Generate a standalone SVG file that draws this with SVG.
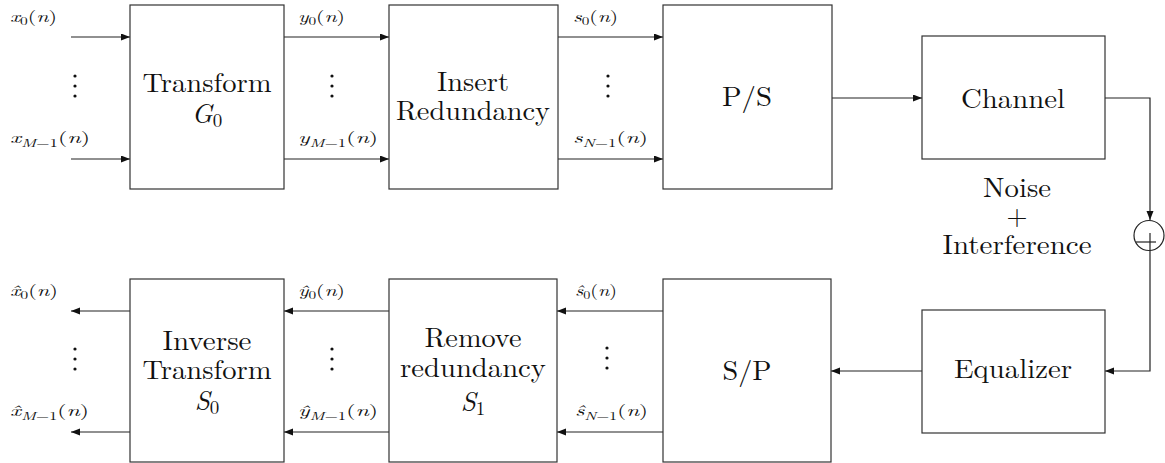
<svg xmlns="http://www.w3.org/2000/svg" width="1165" height="463" viewBox="0 0 1165 463" font-family="Latin Modern Roman, Liberation Serif, serif">
<style>
.box{fill:#fff;stroke:#333;stroke-width:1.2}
.ln{fill:none;stroke:#222;stroke-width:1.2}
.big{font-size:27px;fill:#111;text-anchor:middle}
.sm{font-size:15.5px;fill:#111;font-style:italic}
.sub{font-size:11px}
.up{font-style:normal}
.dot{fill:#111}
</style>
<defs>
<marker id="ah" markerUnits="userSpaceOnUse" markerWidth="10" markerHeight="8" refX="9" refY="3.5" orient="auto">
<path d="M0,0 L9,3.5 L0,7 z" fill="#111"/>
</marker>
</defs>

<g id="connectors">
<line class="ln" x1="71" y1="37" x2="130" y2="37" marker-end="url(#ah)"/>
<line class="ln" x1="71" y1="159" x2="130" y2="159" marker-end="url(#ah)"/>
<line class="ln" x1="284" y1="37" x2="389" y2="37" marker-end="url(#ah)"/>
<line class="ln" x1="284" y1="159" x2="389" y2="159" marker-end="url(#ah)"/>
<line class="ln" x1="558" y1="37" x2="663" y2="37" marker-end="url(#ah)"/>
<line class="ln" x1="558" y1="159" x2="663" y2="159" marker-end="url(#ah)"/>
<line class="ln" x1="832" y1="98" x2="922" y2="98" marker-end="url(#ah)"/>
<polyline class="ln" points="1105,98 1150,98 1150,220" marker-end="url(#ah)"/>
<polyline class="ln" points="1150,251 1150,371 1105,371" marker-end="url(#ah)"/>
<line class="ln" x1="922" y1="371" x2="831" y2="371" marker-end="url(#ah)"/>
<line class="ln" x1="663" y1="311" x2="557" y2="311" marker-end="url(#ah)"/>
<line class="ln" x1="663" y1="432" x2="557" y2="432" marker-end="url(#ah)"/>
<line class="ln" x1="389" y1="311" x2="284" y2="311" marker-end="url(#ah)"/>
<line class="ln" x1="389" y1="432" x2="284" y2="432" marker-end="url(#ah)"/>
<line class="ln" x1="130" y1="311" x2="71" y2="311" marker-end="url(#ah)"/>
<line class="ln" x1="130" y1="432" x2="71" y2="432" marker-end="url(#ah)"/>
</g>

<g id="transform">
<rect class="box" x="130" y="5" width="154" height="184"/>
<text class="big" x="207" y="92" textLength="129" lengthAdjust="spacingAndGlyphs">Transform</text>
<text class="big" x="207" y="123"><tspan font-style="italic">G</tspan><tspan font-size="19" dy="4">0</tspan></text>
</g>
<g id="insert">
<rect class="box" x="389" y="5" width="169" height="184"/>
<text class="big" x="473" y="91" textLength="72" lengthAdjust="spacingAndGlyphs">Insert</text>
<text class="big" x="473" y="120" textLength="154" lengthAdjust="spacingAndGlyphs">Redundancy</text>
</g>
<g id="ps">
<rect class="box" x="663" y="5" width="169" height="184"/>
<text class="big" x="747" y="106" textLength="50" lengthAdjust="spacingAndGlyphs">P/S</text>
</g>
<g id="channel">
<rect class="box" x="922" y="36" width="183" height="123"/>
<text class="big" x="1013" y="108" textLength="104" lengthAdjust="spacingAndGlyphs">Channel</text>
</g>
<g id="noise">
<text class="big" x="1017" y="197" textLength="68" lengthAdjust="spacingAndGlyphs">Noise</text>
<text class="big" x="1017" y="225">+</text>
<text class="big" x="1017" y="254" textLength="149" lengthAdjust="spacingAndGlyphs">Interference</text>
</g>
<g id="adder">
<circle cx="1149" cy="235.5" r="15" fill="#fff" stroke="#222" stroke-width="1.2"/>
<line class="ln" x1="1136" y1="242" x2="1156" y2="242"/>
<line class="ln" x1="1150" y1="233" x2="1150" y2="251"/>
</g>
<g id="equalizer">
<rect class="box" x="922" y="310" width="183" height="123"/>
<text class="big" x="1013" y="378" textLength="118" lengthAdjust="spacingAndGlyphs">Equalizer</text>
</g>
<g id="sp">
<rect class="box" x="663" y="279" width="168" height="183"/>
<text class="big" x="747" y="380" textLength="49" lengthAdjust="spacingAndGlyphs">S/P</text>
</g>
<g id="remove">
<rect class="box" x="389" y="279" width="168" height="183"/>
<text class="big" x="473" y="347" textLength="97" lengthAdjust="spacingAndGlyphs">Remove</text>
<text class="big" x="473" y="377" textLength="146" lengthAdjust="spacingAndGlyphs">redundancy</text>
<text class="big" x="473" y="411"><tspan font-style="italic">S</tspan><tspan font-size="19" dy="4">1</tspan></text>
</g>
<g id="inverse">
<rect class="box" x="130" y="279" width="154" height="183"/>
<text class="big" x="207" y="350" textLength="89" lengthAdjust="spacingAndGlyphs">Inverse</text>
<text class="big" x="207" y="379" textLength="129" lengthAdjust="spacingAndGlyphs">Transform</text>
<text class="big" x="207" y="410"><tspan font-style="italic">S</tspan><tspan font-size="19" dy="4">0</tspan></text>
</g>

<g id="labels">
<text class="sm" x="10" y="22" textLength="47" lengthAdjust="spacingAndGlyphs">x<tspan class="sub up" dy="3">0</tspan><tspan dy="-3" class="up">(</tspan>n<tspan class="up">)</tspan></text>
<text class="sm" x="10" y="143" textLength="80" lengthAdjust="spacingAndGlyphs">x<tspan class="sub" dy="4">M</tspan><tspan class="sub up">−1</tspan><tspan dy="-4" class="up">(</tspan>n<tspan class="up">)</tspan></text>
<text class="sm" x="298" y="22" textLength="47" lengthAdjust="spacingAndGlyphs">y<tspan class="sub up" dy="3">0</tspan><tspan dy="-3" class="up">(</tspan>n<tspan class="up">)</tspan></text>
<text class="sm" x="298" y="143" textLength="80" lengthAdjust="spacingAndGlyphs">y<tspan class="sub" dy="4">M</tspan><tspan class="sub up">−1</tspan><tspan dy="-4" class="up">(</tspan>n<tspan class="up">)</tspan></text>
<text class="sm" x="573" y="22" textLength="45" lengthAdjust="spacingAndGlyphs">s<tspan class="sub up" dy="3">0</tspan><tspan dy="-3" class="up">(</tspan>n<tspan class="up">)</tspan></text>
<text class="sm" x="573" y="143" textLength="75" lengthAdjust="spacingAndGlyphs">s<tspan class="sub" dy="4">N</tspan><tspan class="sub up">−1</tspan><tspan dy="-4" class="up">(</tspan>n<tspan class="up">)</tspan></text>

<text class="sm" x="10" y="296" textLength="48" lengthAdjust="spacingAndGlyphs">x̂<tspan class="sub up" dy="3">0</tspan><tspan dy="-3" class="up">(</tspan>n<tspan class="up">)</tspan></text>
<text class="sm" x="10" y="416" textLength="79" lengthAdjust="spacingAndGlyphs">x̂<tspan class="sub" dy="4">M</tspan><tspan class="sub up">−1</tspan><tspan dy="-4" class="up">(</tspan>n<tspan class="up">)</tspan></text>
<text class="sm" x="298" y="296" textLength="47" lengthAdjust="spacingAndGlyphs">ŷ<tspan class="sub up" dy="3">0</tspan><tspan dy="-3" class="up">(</tspan>n<tspan class="up">)</tspan></text>
<text class="sm" x="298" y="416" textLength="80" lengthAdjust="spacingAndGlyphs">ŷ<tspan class="sub" dy="4">M</tspan><tspan class="sub up">−1</tspan><tspan dy="-4" class="up">(</tspan>n<tspan class="up">)</tspan></text>
<text class="sm" x="575" y="296" textLength="42" lengthAdjust="spacingAndGlyphs">ŝ<tspan class="sub up" dy="3">0</tspan><tspan dy="-3" class="up">(</tspan>n<tspan class="up">)</tspan></text>
<text class="sm" x="575" y="416" textLength="73" lengthAdjust="spacingAndGlyphs">ŝ<tspan class="sub" dy="4">N</tspan><tspan class="sub up">−1</tspan><tspan dy="-4" class="up">(</tspan>n<tspan class="up">)</tspan></text>
</g>

<g id="dots">
<circle class="dot" cx="75" cy="76" r="1.6"/><circle class="dot" cx="75" cy="86" r="1.6"/><circle class="dot" cx="75" cy="96" r="1.6"/>
<circle class="dot" cx="332" cy="76" r="1.6"/><circle class="dot" cx="332" cy="86" r="1.6"/><circle class="dot" cx="332" cy="96" r="1.6"/>
<circle class="dot" cx="608" cy="76" r="1.6"/><circle class="dot" cx="608" cy="86" r="1.6"/><circle class="dot" cx="608" cy="96" r="1.6"/>
<circle class="dot" cx="75" cy="349" r="1.6"/><circle class="dot" cx="75" cy="359" r="1.6"/><circle class="dot" cx="75" cy="369" r="1.6"/>
<circle class="dot" cx="332" cy="349" r="1.6"/><circle class="dot" cx="332" cy="359" r="1.6"/><circle class="dot" cx="332" cy="369" r="1.6"/>
<circle class="dot" cx="607" cy="348" r="1.6"/><circle class="dot" cx="607" cy="358" r="1.6"/><circle class="dot" cx="607" cy="368" r="1.6"/>
</g>
</svg>
